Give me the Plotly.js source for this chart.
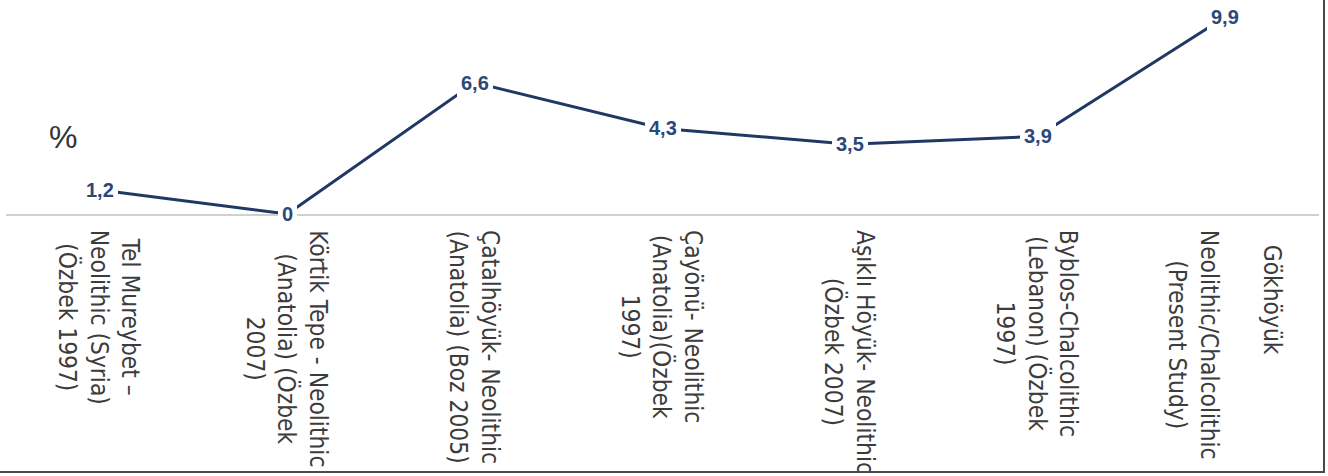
<!DOCTYPE html>
<html>
<head>
<meta charset="utf-8">
<script src="https://cdn.plot.ly/plotly-3.0.1.min.js"></script>
<style>
  html, body { margin: 0; padding: 0; background: #ffffff; }
  #wrap { position: relative; width: 1328px; height: 476px; overflow: hidden; }
  #chart { width: 1328px; height: 476px; }
  #frame { position: absolute; left: 0; top: 0; width: 1323px; height: 471px;
           border-right: 2px solid #4a4a4a; border-bottom: 2px solid #4a4a4a;
           pointer-events: none; }
</style>
</head>
<body>
<div id="wrap">
  <div id="chart"></div>
  <div id="frame"></div>
</div>
<script>
// ---- data ----
const categories = [
  "Tel Mureybet –<br>Neolithic (Syria)<br>(Özbek 1997)",
  "Körtik Tepe - Neolithic<br>(Anatolia) (Özbek<br>2007)",
  "Çatalhöyük- Neolithic<br>(Anatolia) (Boz 2005)",
  "Çayönü- Neolithic<br>(Anatolia)(Özbek<br>1997)",
  "Aşıklı Höyük- Neolithic<br>(Özbek 2007)",
  "Byblos-Chalcolithic<br>(Lebanon) (Özbek<br>1997)",
  "Gökhöyük<br> <br>Neolithic/Chalcolithic<br>(Present Study)"
];
const values = [1.2, 0, 6.6, 4.3, 3.5, 3.9, 9.9];
const yUnit = "%";

// ---- styles ----
const lineColor = "#1f3864";
const labelColor = "#2c4778";
const tickFont = {family: "'Liberation Sans Narrow', 'DejaVu Sans Condensed', 'Liberation Sans', sans-serif", size: 24.3, color: "#3c3c3c"};

function fmt(v) { return String(v).replace(".", ","); }
// the first line of the last label sits higher in the original: pad it with trailing spaces
function tickText(c, i) {
  if (i === categories.length - 1) {
    const parts = c.split("<br>");
    parts[0] = parts[0] + "&nbsp;".repeat(13);
    return parts.join("<br>");
  }
  return c;
}

const trace = {
  x: categories,
  y: values,
  type: "scatter",
  mode: "lines",
  line: {color: lineColor, width: 3},
  hoverinfo: "skip",
  cliponaxis: false
};

const annotations = [];
// category labels (rotated, centered lines)
categories.forEach(function (c, i) {
  annotations.push({
    x: c, y: 0, xref: "x", yref: "y",
    text: tickText(c, i), textangle: 90, showarrow: false,
    xanchor: "center", yanchor: "top", yshift: -14,
    align: "center", font: tickFont
  });
});
// data labels with white background (breaks the line like the original)
values.forEach(function (v, i) {
  annotations.push({
    x: categories[i], y: v, xref: "x", yref: "y",
    text: "<b>" + fmt(v) + "</b>", showarrow: false,
    xanchor: "center", yanchor: "middle",
    bgcolor: "#ffffff", borderpad: 4, borderwidth: 0,
    font: {family: "'Liberation Sans', Arial, sans-serif", size: 20, color: labelColor}
  });
});
// unit label
annotations.push({
  x: 0.0435, y: 0.368, xref: "paper", yref: "paper",
  text: yUnit, showarrow: false, xanchor: "center", yanchor: "middle",
  font: {family: "'Liberation Sans', Arial, sans-serif", size: 32, color: "#333333"}
});

const layout = {
  width: 1328, height: 476,
  margin: {l: 6, r: 9, t: 5, b: 262, pad: 0},
  paper_bgcolor: "#ffffff", plot_bgcolor: "#ffffff",
  showlegend: false,
  xaxis: {
    type: "category", showline: true, linecolor: "#d0d0d0", linewidth: 2,
    showticklabels: false, showgrid: false, zeroline: false, ticks: "",
    range: [-0.5, 6.5], fixedrange: true
  },
  yaxis: {
    range: [0, 10.5], visible: false, showgrid: false, zeroline: false,
    fixedrange: true
  },
  annotations: annotations
};

Plotly.newPlot("chart", [trace], layout, {displayModeBar: false, staticPlot: true});
</script>
</body>
</html>
